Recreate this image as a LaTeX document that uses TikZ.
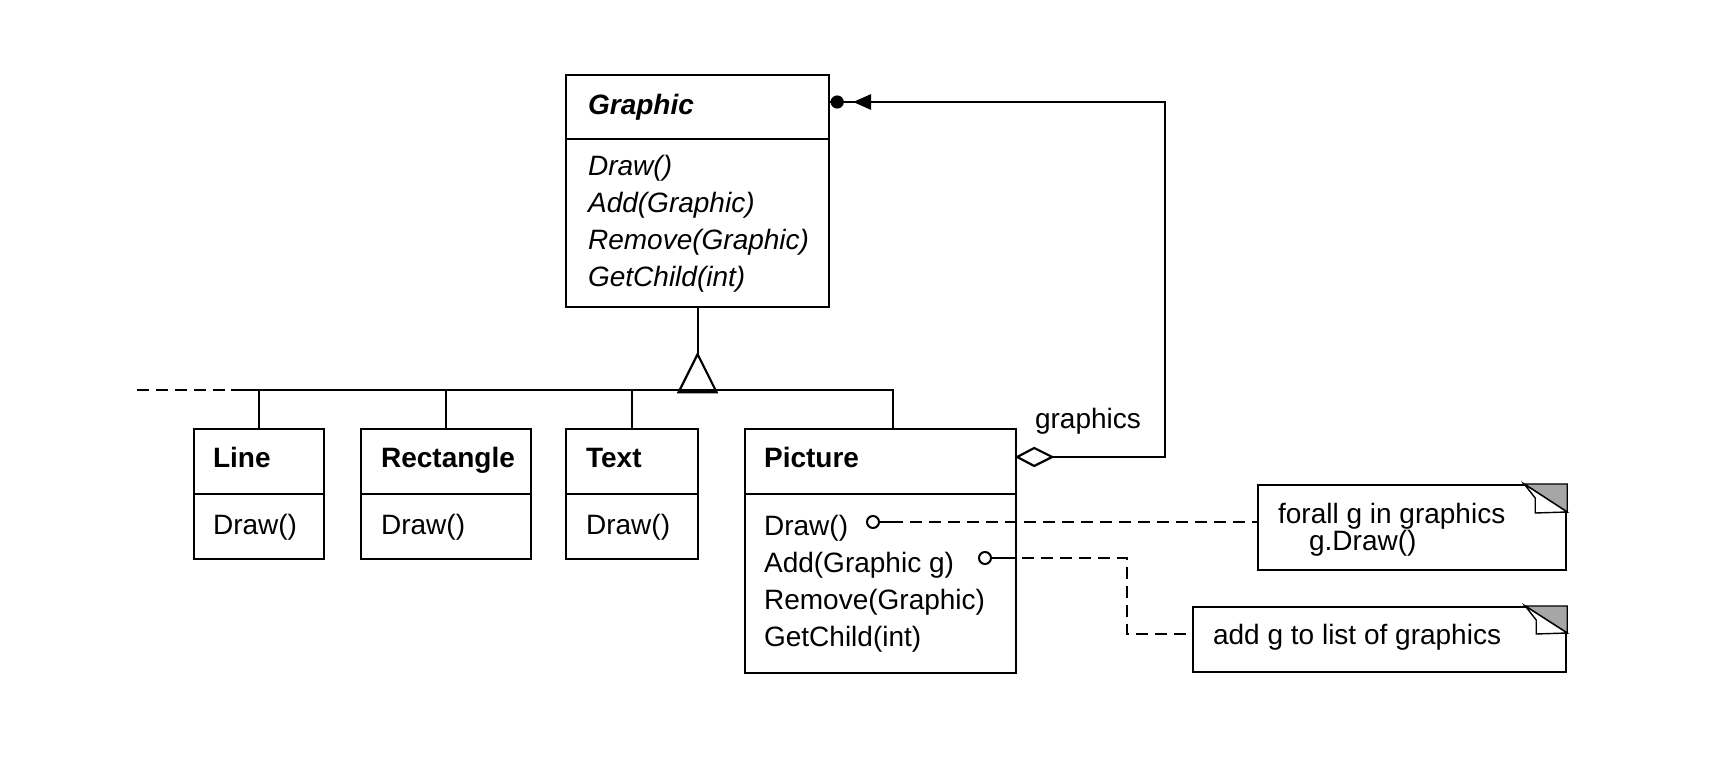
\documentclass[tikz,border=0pt]{standalone}
\usepackage{fontspec}
\setmainfont{Liberation Sans}
\usetikzlibrary{calc,arrows.meta}
\begin{document}
\begin{tikzpicture}[x=0.5pt,y=-0.5pt,
  line width=1.1pt,
  box/.style={draw, rectangle, inner sep=0, anchor=north west, fill=white},
  txt/.style={inner sep=0, anchor=base west, font=\fontsize{14}{16}\selectfont},
  ttl/.style={inner sep=0, anchor=base west, font=\fontsize{14}{16}\selectfont\bfseries},
  itx/.style={inner sep=0, anchor=base west, font=\fontsize{14}{16}\selectfont\itshape},
  dsh/.style={dash pattern=on 6pt off 3.5pt},
  lolly/.style={draw, circle, inner sep=0, minimum size=6pt, line width=1pt, fill=white},
  notebox/.style={draw, rectangle, inner sep=0, anchor=north west, fill=white},
  foldgrey/.style={fill=black!35, draw, line width=0.7pt},
  flap/.style={fill=white, draw, line width=0.7pt}]
\useasboundingbox (0,0) rectangle (1710,764);

% ---------- Graphic ----------
\node[box, minimum width=131.5pt, minimum height=116pt] (graphic) at (565,74) {};
\draw ($(graphic.north west)+(0,65)$) -- ($(graphic.north east)+(0,65)$);
\node[ttl, font=\fontsize{14}{16}\selectfont\bfseries\itshape] (gtitle) at (587,115) {Graphic};
\node[itx] (gm1) at (587,176) {Draw()};
\node[itx] (gm2) at (587,213) {Add(Graphic)};
\node[itx] (gm3) at (587,250) {Remove(Graphic)};
\node[itx] (gm4) at (587,287) {GetChild(int)};

% ---------- Line ----------
\node[box, minimum width=65pt, minimum height=65pt] (line) at (193,428) {};
\draw ($(line.north west)+(0,66)$) -- ($(line.north east)+(0,66)$);
\node[ttl] (ltitle) at (212,468) {Line};
\node[txt] (lm1) at (212,535) {Draw()};

% ---------- Rectangle ----------
\node[box, minimum width=85pt, minimum height=65pt] (rect) at (360,428) {};
\draw ($(rect.north west)+(0,66)$) -- ($(rect.north east)+(0,66)$);
\node[ttl] (rtitle) at (380,468) {Rectangle};
\node[txt] (rm1) at (380,535) {Draw()};

% ---------- Text ----------
\node[box, minimum width=66pt, minimum height=65pt] (text) at (565,428) {};
\draw ($(text.north west)+(0,66)$) -- ($(text.north east)+(0,66)$);
\node[ttl] (ttitle) at (585,468) {Text};
\node[txt] (tm1) at (585,535) {Draw()};

% ---------- Picture ----------
\node[box, minimum width=135.5pt, minimum height=122pt] (picture) at (744,428) {};
\draw ($(picture.north west)+(0,66)$) -- ($(picture.north east)+(0,66)$);
\node[ttl] (ptitle) at (763,468) {Picture};
\node[txt] (pm1) at (763,536) {Draw()};
\node[txt] (pm2) at (763,573) {Add(Graphic g)};
\node[txt] (pm3) at (763,610) {Remove(Graphic)};
\node[txt] (pm4) at (763,647) {GetChild(int)};

% ---------- Notes ----------
\node[notebox, minimum width=154pt, minimum height=42.5pt] (note1) at (1257,484) {};
\fill[foldgrey] ($(note1.north east)+(-43,0)$) -- (note1.north east) -- ($(note1.north east)+(0,28)$) -- cycle;
\draw[flap] ($(note1.north east)+(-43,0)$) -- ($(note1.north east)+(-32,14)$) -- ($(note1.north east)+(-32,29)$) -- ($(note1.north east)+(0,28)$) -- cycle;
\node[txt] (n1a) at (1277,524) {forall g in graphics};
\node[txt] (n1b) at (1308,551) {g.Draw()};

\node[notebox, minimum width=186.5pt, minimum height=32.5pt] (note2) at (1192,606) {};
\fill[foldgrey] ($(note2.north east)+(-42,0)$) -- (note2.north east) -- ($(note2.north east)+(0,27)$) -- cycle;
\draw[flap] ($(note2.north east)+(-42,0)$) -- ($(note2.north east)+(-31,14)$) -- ($(note2.north east)+(-31,28)$) -- ($(note2.north east)+(0,27)$) -- cycle;
\node[txt] (n2a) at (1212,645) {add g to list of graphics};

% ---------- Inheritance ----------
\coordinate (bus) at (696.5,390);
\coordinate (busstart) at (231,390);
\coordinate (busend) at (137,390);
\coordinate (pconn) at ($(picture.north west)+(149,0)$);
\draw (graphic.south) -- ++(0,46) coordinate (apex);
\draw[line join=miter] (apex) -- ++(-19,38) -- ++(38,0) -- cycle;
\draw (busstart) -- (bus -| pconn) -- (pconn);
\draw[dsh] (busend) -- (busstart);
\draw (line.north) -- (line.north |- bus);
\draw (rect.north) -- (rect.north |- bus);
\draw (text.north) -- (text.north |- bus);

% ---------- Aggregation ----------
\coordinate (aggP) at ($(picture.north east)+(0,29)$);
\coordinate (aggG) at ($(graphic.north east)+(0,28)$);
\coordinate (aggC) at (1165,102);
\draw (aggP) -- ++(17,-9) -- ++(18,9) coordinate (dtip) -- ++(-18,9) -- cycle;
\draw (dtip) -| (aggC) -- (aggG);
\fill ($(aggG)+(7,0)$) circle (3.3pt);
\fill ($(aggG)+(23,0)$) -- ($(aggG)+(41,-8)$) -- ($(aggG)+(41,8)$) -- cycle;
\node[txt] (glabel) at (1034,429) {graphics};

% ---------- Lollipops to notes ----------
\node[lolly] (ldraw) at (873,522) {};
\draw (ldraw.east) -- ++(11,0) coordinate (sdraw);
\draw[dsh] (sdraw) -- (sdraw -| note1.west);

\node[lolly] (ladd) at (985,558) {};
\draw (ladd.east) -- ++(11,0) coordinate (sadd);
\coordinate (abend) at (1127,558);
\coordinate (n2in) at ($(note2.north west)+(0,28)$);
\draw[dsh] (sadd) -- (abend) |- (n2in);
\end{tikzpicture}
\end{document}
